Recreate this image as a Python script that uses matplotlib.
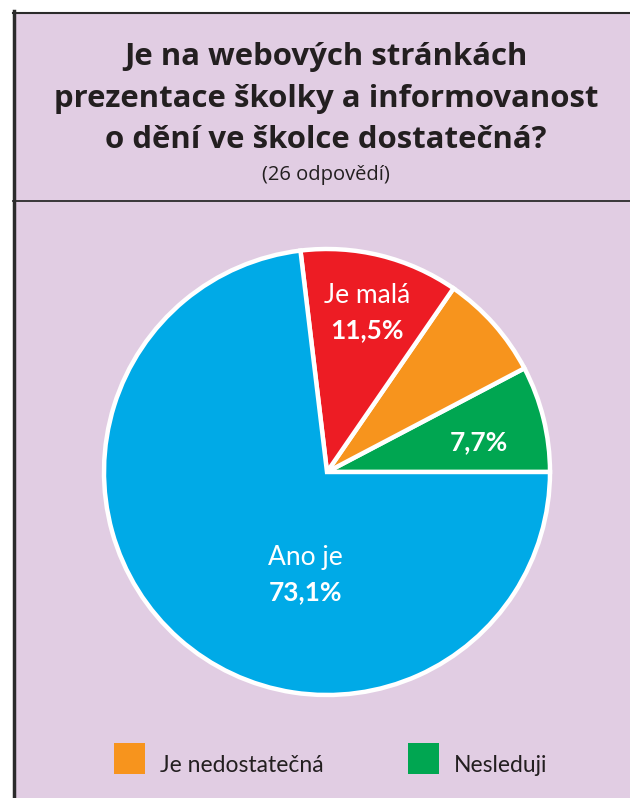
import matplotlib.pyplot as plt
from matplotlib.patches import Rectangle
from matplotlib.lines import Line2D

# Data
odpovedi = ["Nesleduji", "Je nedostatečná", "Je malá", "Ano je"]
procenta = [7.7, 7.7, 11.5, 73.1]
barvy = ["#00a651", "#f7941d", "#ed1c24", "#00aae7"]
nazvy_v_grafu = ["", "", "Je malá", "Ano je"]
hodnoty_v_grafu = ["7,7%", "", "11,5%", "73,1%"]
legenda_idx = [1, 0]

titulek = ["Je na webových stránkách",
           "prezentace školky a informovanost",
           "o dění ve školce dostatečná?"]
podtitulek = "(26 odpovědí)"

W, H = 630, 798
TEXT = "#231f20"
fig = plt.figure(figsize=(W / 100, H / 100), dpi=100)
fig.patch.set_facecolor("white")

# background layer in pixel coordinates
bg = fig.add_axes([0, 0, 1, 1])
bg.set_xlim(0, W)
bg.set_ylim(H, 0)
bg.axis("off")
bg.add_patch(Rectangle((13, 12), W, H, facecolor="#e1cde3", edgecolor="none"))
bg.add_line(Line2D([14, 14], [11, H], color="#2b2b2b", lw=2.5))
bg.add_line(Line2D([13, W], [12.5, 12.5], color="#2b2b2b", lw=1.5))
bg.add_line(Line2D([13, W], [201, 201], color="#2b2b2b", lw=1.3))

for i, radek in enumerate(titulek):
    bg.text(326, 65 + i * 41.5, radek, ha="center", va="baseline",
            fontsize=22.4, fontweight="bold", family="Open Sans", color=TEXT)
bg.text(326, 180, podtitulek, ha="center", va="baseline", fontsize=14.5,
        family="Open Sans", color=TEXT)

# pie
cx, cy, r = 327, 472, 223
ax = fig.add_axes([(cx - r) / W, (H - cy - r) / H, 2 * r / W, 2 * r / H])
wedges, _ = ax.pie(procenta, colors=barvy, startangle=0, counterclock=True,
                   radius=1, wedgeprops=dict(edgecolor="white", linewidth=3.2))
ax.set_xlim(-1, 1)
ax.set_ylim(-1, 1)
ax.axis("off")
for w in wedges:
    w.set_clip_on(False)


def px(x, y):
    # pixel position -> pie data coordinates
    return (x - cx) / r, (cy - y) / r


# label positions (pixels): x centre, name baseline, value baseline
pozice = [(479, None, 450), None, (367, 303, 338), (305, 565, 600)]
for p, nazev, hodnota in zip(pozice, nazvy_v_grafu, hodnoty_v_grafu):
    if p is None:
        continue
    x, yn, yv = p
    if nazev:
        ax.text(*px(x, yn), nazev, ha="center", va="baseline", fontsize=19,
                family="Lato", color="white")
    ax.text(*px(x, yv), hodnota, ha="center", va="baseline", fontsize=19,
            family="Lato", fontweight="bold", color="white")

# legend
leg_x = [114, 408]
for x, i in zip(leg_x, legenda_idx):
    bg.add_patch(Rectangle((x, 743), 31, 31, facecolor=barvy[i], edgecolor="none"))
    bg.text(x + 46, 772, odpovedi[i], ha="left", va="baseline", fontsize=16.5,
            family="Lato", color=TEXT)

fig.savefig("out.png", dpi=100)
